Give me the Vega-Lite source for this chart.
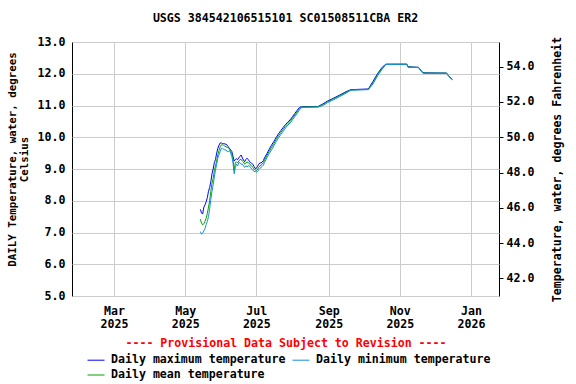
{
  "$schema": "https://vega.github.io/schema/vega-lite/v6.json",
  "width": 427,
  "height": 254,
  "autosize": {"type": "none"},
  "padding": {"left": 72, "top": 42, "right": 77, "bottom": 88},
  "background": "white",
  "title": {
    "text": "USGS 384542106515101 SC01508511CBA ER2",
    "font": "DejaVu Sans Mono",
    "fontSize": 11.6,
    "fontWeight": "bold",
    "color": "black",
    "anchor": "middle",
    "frame": "group",
    "offset": 11
  },
  "config": {
    "view": {"stroke": "black", "strokeWidth": 1},
    "axis": {
      "labelFont": "DejaVu Sans Mono",
      "labelFontSize": 11.6,
      "labelFontWeight": "bold",
      "labelColor": "black",
      "titleFont": "DejaVu Sans Mono",
      "titleFontSize": 11.6,
      "titleFontWeight": "bold",
      "titleColor": "black",
      "domain": false,
      "gridColor": "#cccccc",
      "gridWidth": 1,
      "gridOpacity": 1,
      "tickColor": "black"
    },
    "legend": {
      "labelFont": "DejaVu Sans Mono",
      "labelFontSize": 11.6,
      "labelFontWeight": "bold",
      "labelColor": "black"
    }
  },
  "datasets": {
    "temps": [
      {"date": "2025-05-14", "max": 7.73, "mean": 7.42, "min": 7.03},
      {"date": "2025-05-15", "max": 7.62, "mean": 7.30, "min": 6.95},
      {"date": "2025-05-16", "max": 7.58, "mean": 7.24, "min": 6.98},
      {"date": "2025-05-17", "max": 7.80, "mean": 7.28, "min": 7.05},
      {"date": "2025-05-18", "max": 7.87, "mean": 7.35, "min": 7.12},
      {"date": "2025-05-19", "max": 7.97, "mean": 7.45, "min": 7.25},
      {"date": "2025-05-20", "max": 8.10, "mean": 7.60, "min": 7.35},
      {"date": "2025-05-21", "max": 8.30, "mean": 7.80, "min": 7.50},
      {"date": "2025-05-22", "max": 8.42, "mean": 8.00, "min": 7.75},
      {"date": "2025-05-23", "max": 8.60, "mean": 8.30, "min": 8.05},
      {"date": "2025-05-24", "max": 8.85, "mean": 8.55, "min": 8.30},
      {"date": "2025-05-25", "max": 9.00, "mean": 8.70, "min": 8.50},
      {"date": "2025-05-26", "max": 9.20, "mean": 8.95, "min": 8.75},
      {"date": "2025-05-27", "max": 9.30, "mean": 9.10, "min": 8.97},
      {"date": "2025-05-28", "max": 9.50, "mean": 9.25, "min": 9.15},
      {"date": "2025-05-29", "max": 9.65, "mean": 9.45, "min": 9.35},
      {"date": "2025-05-30", "max": 9.75, "mean": 9.58, "min": 9.45},
      {"date": "2025-05-31", "max": 9.82, "mean": 9.70, "min": 9.55},
      {"date": "2025-06-01", "max": 9.82, "mean": 9.76, "min": 9.65},
      {"date": "2025-06-02", "max": 9.80, "mean": 9.76, "min": 9.65},
      {"date": "2025-06-03", "max": 9.80, "mean": 9.75, "min": 9.62},
      {"date": "2025-06-04", "max": 9.79, "mean": 9.72, "min": 9.60},
      {"date": "2025-06-05", "max": 9.78, "mean": 9.70, "min": 9.60},
      {"date": "2025-06-06", "max": 9.75, "mean": 9.68, "min": 9.55},
      {"date": "2025-06-07", "max": 9.70, "mean": 9.68, "min": 9.55},
      {"date": "2025-06-08", "max": 9.65, "mean": 9.62, "min": 9.58},
      {"date": "2025-06-09", "max": 9.60, "mean": 9.55, "min": 9.50},
      {"date": "2025-06-10", "max": 9.55, "mean": 9.48, "min": 9.40},
      {"date": "2025-06-11", "max": 9.40, "mean": 9.30, "min": 9.20},
      {"date": "2025-06-12", "max": 9.25, "mean": 8.95, "min": 8.85},
      {"date": "2025-06-13", "max": 9.30, "mean": 9.20, "min": 9.05},
      {"date": "2025-06-14", "max": 9.32, "mean": 9.22, "min": 9.15},
      {"date": "2025-06-15", "max": 9.30, "mean": 9.20, "min": 9.10},
      {"date": "2025-06-16", "max": 9.35, "mean": 9.25, "min": 9.20},
      {"date": "2025-06-17", "max": 9.40, "mean": 9.30, "min": 9.20},
      {"date": "2025-06-18", "max": 9.44, "mean": 9.30, "min": 9.15},
      {"date": "2025-06-19", "max": 9.35, "mean": 9.25, "min": 9.15},
      {"date": "2025-06-20", "max": 9.28, "mean": 9.22, "min": 9.10},
      {"date": "2025-06-21", "max": 9.23, "mean": 9.15, "min": 9.05},
      {"date": "2025-06-22", "max": 9.30, "mean": 9.20, "min": 9.10},
      {"date": "2025-06-23", "max": 9.34, "mean": 9.22, "min": 9.07},
      {"date": "2025-06-24", "max": 9.30, "mean": 9.20, "min": 9.10},
      {"date": "2025-06-25", "max": 9.25, "mean": 9.18, "min": 9.10},
      {"date": "2025-06-26", "max": 9.20, "mean": 9.12, "min": 9.05},
      {"date": "2025-06-27", "max": 9.18, "mean": 9.10, "min": 9.00},
      {"date": "2025-06-28", "max": 9.15, "mean": 9.05, "min": 8.97},
      {"date": "2025-06-29", "max": 9.08, "mean": 9.00, "min": 8.92},
      {"date": "2025-06-30", "max": 9.02, "mean": 8.97, "min": 8.92},
      {"date": "2025-07-01", "max": 9.02, "mean": 8.95, "min": 8.90},
      {"date": "2025-07-02", "max": 9.08, "mean": 8.98, "min": 8.92},
      {"date": "2025-07-03", "max": 9.15, "mean": 9.05, "min": 8.98},
      {"date": "2025-07-04", "max": 9.19, "mean": 9.10, "min": 9.02},
      {"date": "2025-07-05", "max": 9.19, "mean": 9.12, "min": 9.05},
      {"date": "2025-07-06", "max": 9.22, "mean": 9.15, "min": 9.08},
      {"date": "2025-07-07", "max": 9.26, "mean": 9.20, "min": 9.12},
      {"date": "2025-07-08", "max": 9.35, "mean": 9.28, "min": 9.20},
      {"date": "2025-07-10", "max": 9.48, "mean": 9.42, "min": 9.35},
      {"date": "2025-07-12", "max": 9.62, "mean": 9.55, "min": 9.48},
      {"date": "2025-07-14", "max": 9.75, "mean": 9.68, "min": 9.60},
      {"date": "2025-07-16", "max": 9.87, "mean": 9.80, "min": 9.73},
      {"date": "2025-07-18", "max": 9.99, "mean": 9.93, "min": 9.86},
      {"date": "2025-07-20", "max": 10.11, "mean": 10.05, "min": 9.98},
      {"date": "2025-07-22", "max": 10.21, "mean": 10.15, "min": 10.09},
      {"date": "2025-07-24", "max": 10.31, "mean": 10.25, "min": 10.19},
      {"date": "2025-07-26", "max": 10.40, "mean": 10.35, "min": 10.29},
      {"date": "2025-07-28", "max": 10.48, "mean": 10.43, "min": 10.38},
      {"date": "2025-07-30", "max": 10.55, "mean": 10.50, "min": 10.45},
      {"date": "2025-08-01", "max": 10.65, "mean": 10.60, "min": 10.55},
      {"date": "2025-08-03", "max": 10.75, "mean": 10.70, "min": 10.65},
      {"date": "2025-08-05", "max": 10.85, "mean": 10.80, "min": 10.75},
      {"date": "2025-08-07", "max": 10.94, "mean": 10.90, "min": 10.87},
      {"date": "2025-08-09", "max": 10.96, "mean": 10.95, "min": 10.94},
      {"date": "2025-08-23", "max": 10.97, "mean": 10.96, "min": 10.95},
      {"date": "2025-08-27", "max": 11.05, "mean": 11.03, "min": 11.00},
      {"date": "2025-08-31", "max": 11.14, "mean": 11.12, "min": 11.09},
      {"date": "2025-09-04", "max": 11.21, "mean": 11.19, "min": 11.16},
      {"date": "2025-09-10", "max": 11.32, "mean": 11.30, "min": 11.27},
      {"date": "2025-09-15", "max": 11.42, "mean": 11.40, "min": 11.37},
      {"date": "2025-09-20", "max": 11.50, "mean": 11.49, "min": 11.48},
      {"date": "2025-10-05", "max": 11.52, "mean": 11.51, "min": 11.50},
      {"date": "2025-10-09", "max": 11.76, "mean": 11.72, "min": 11.68},
      {"date": "2025-10-13", "max": 12.01, "mean": 11.98, "min": 11.94},
      {"date": "2025-10-17", "max": 12.21, "mean": 12.18, "min": 12.15},
      {"date": "2025-10-20", "max": 12.30, "mean": 12.30, "min": 12.29},
      {"date": "2025-11-07", "max": 12.30, "mean": 12.30, "min": 12.30},
      {"date": "2025-11-08", "max": 12.22, "mean": 12.21, "min": 12.20},
      {"date": "2025-11-17", "max": 12.20, "mean": 12.20, "min": 12.20},
      {"date": "2025-11-19", "max": 12.11, "mean": 12.10, "min": 12.09},
      {"date": "2025-11-21", "max": 12.03, "mean": 12.02, "min": 12.01},
      {"date": "2025-12-11", "max": 12.02, "mean": 12.02, "min": 12.02},
      {"date": "2025-12-13", "max": 11.93, "mean": 11.92, "min": 11.91},
      {"date": "2025-12-16", "max": 11.83, "mean": 11.82, "min": 11.81}
    ],
    "fahr": [
      {"f": 42}, {"f": 44}, {"f": 46}, {"f": 48}, {"f": 50}, {"f": 52}, {"f": 54}
    ]
  },
  "layer": [
    {
      "data": {"name": "temps"},
      "transform": [{"fold": ["max", "mean", "min"], "as": ["series", "temp"]}],
      "mark": {"type": "line", "strokeWidth": 1},
      "encoding": {
        "x": {
          "field": "date",
          "type": "temporal",
          "scale": {
            "type": "utc",
            "domain": [
              {"year": 2025, "month": 1, "date": 24, "utc": true},
              {"year": 2026, "month": 1, "date": 25, "utc": true}
            ]
          },
          "axis": {
            "values": [
              {"year": 2025, "month": 3, "date": 1, "utc": true},
              {"year": 2025, "month": 5, "date": 1, "utc": true},
              {"year": 2025, "month": 7, "date": 1, "utc": true},
              {"year": 2025, "month": 9, "date": 1, "utc": true},
              {"year": 2025, "month": 11, "date": 1, "utc": true},
              {"year": 2026, "month": 1, "date": 1, "utc": true}
            ],
            "labelExpr": "[utcFormat(datum.value, '%b'), utcFormat(datum.value, '%Y')]",
            "labelLineHeight": 13,
            "labelPadding": 9,
            "ticks": false,
            "tickSize": 0,
            "grid": true,
            "title": "---- Provisional Data Subject to Revision ----",
            "titleColor": "#ff0000",
            "titleY": 47,
            "titleBaseline": "middle"
          }
        },
        "y": {
          "field": "temp",
          "type": "quantitative",
          "scale": {"domain": [5, 13], "nice": false, "zero": false},
          "axis": {
            "values": [5, 6, 7, 8, 9, 10, 11, 12, 13],
            "format": ".1f",
            "grid": true,
            "ticks": false,
            "labelPadding": 7,
            "title": ["DAILY Temperature, water, degrees", "Celsius"],
            "titleFontSize": 10.8,
            "titleLineHeight": 12,
            "titleX": -60,
            "titleY": 117,
            "titleBaseline": "middle",
            "titleAngle": 270
          }
        },
        "color": {
          "field": "series",
          "type": "nominal",
          "scale": {
            "domain": ["max", "mean", "min"],
            "range": ["#0000ff", "#00a000", "#1a8ce0"]
          },
          "legend": {
            "orient": "none",
            "legendX": 15,
            "legendY": 309,
            "title": null,
            "columns": 2,
            "columnPadding": 4,
            "rowPadding": 0,
            "symbolType": "stroke",
            "symbolSize": 289,
            "symbolStrokeWidth": 1,
            "labelOffset": 6,
            "labelLimit": 400,
            "labelExpr": "datum.label == 'max' ? 'Daily maximum temperature' : (datum.label == 'min' ? 'Daily minimum temperature' : 'Daily mean temperature')"
          }
        }
      }
    },
    {
      "data": {"name": "fahr"},
      "mark": {"type": "rule", "strokeOpacity": 0},
      "encoding": {
        "y": {
          "field": "f",
          "type": "quantitative",
          "scale": {"domain": [41, 55.4], "nice": false, "zero": false},
          "axis": {
            "orient": "right",
            "values": [42, 44, 46, 48, 50, 52, 54],
            "format": ".1f",
            "grid": false,
            "ticks": true,
            "tickSize": 4,
            "labelPadding": 3,
            "title": "Temperature, water, degrees Fahrenheit",
            "titleAngle": 270,
            "titleX": 58,
            "titleY": 127,
            "titleBaseline": "middle"
          }
        }
      }
    }
  ],
  "resolve": {"scale": {"y": "independent"}}
}
